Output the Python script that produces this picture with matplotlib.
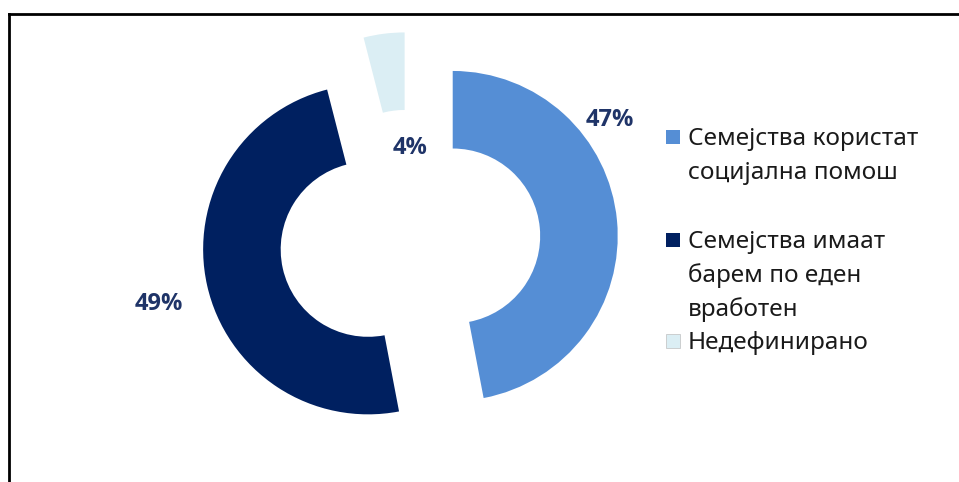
import matplotlib
matplotlib.use("Agg")
import matplotlib.pyplot as plt
from matplotlib.lines import Line2D
from matplotlib.patches import Rectangle

plt.rcParams['font.family'] = ['Noto Sans', 'DejaVu Sans']

# ---- data ----
categories = ["Семејства користат\nсоцијална помош",
              "Семејства имаат\nбарем по еден\nвработен",
              "Недефинирано"]
values = [47, 49, 4]
value_labels = ["47%", "49%", "4%"]
colors = ["#558ED5", "#002060", "#DBEEF4"]

# ---- layout (pixels) ----
W, H = 959, 482
DPI = 100
cx_px, cy_px = 410, 240      # pie centre (from top-left)
R_px = 165                   # outer radius in pixels
label_pos = [(1.21, 0.73), (-1.52, -0.39), (0.0, 0.56)]  # in radius units
label_color = "#1F3468"

fig = plt.figure(figsize=(W / DPI, H / DPI), dpi=DPI)
fig.patch.set_facecolor("white")
ax = fig.add_axes([0, 0, 1, 1])

ax.pie(values, colors=colors, startangle=90, counterclock=False,
       explode=[0.26] * len(values), radius=1.0,
       wedgeprops=dict(width=0.47, edgecolor="none"))

ax.set_xlim(-cx_px / R_px, (W - cx_px) / R_px)
ax.set_ylim(-(H - cy_px) / R_px, cy_px / R_px)
ax.set_aspect("auto")
ax.axis("off")

for (lx, ly), txt in zip(label_pos, value_labels):
    ax.text(lx, ly, txt, ha="center", va="center", fontsize=17,
            fontweight="bold", family=["Open Sans", "DejaVu Sans"],
            color=label_color)

# ---- legend (drawn manually) ----
sq_x, sq_size = 666, 14
text_x = 688
first_baselines = [145, 248, 349]
line_step = 34
for cat, col, base in zip(categories, colors, first_baselines):
    lines = cat.split("\n")
    sq_cy = base - 8
    fig.add_artist(Rectangle((sq_x / W, 1 - (sq_cy + sq_size / 2) / H),
                             sq_size / W, sq_size / H,
                             transform=fig.transFigure, facecolor=col,
                             edgecolor="#BFBFBF" if col == "#DBEEF4" else "none",
                             linewidth=0.5))
    for i, ln in enumerate(lines):
        fig.text(text_x / W, 1 - (base + i * line_step) / H, ln,
                 ha="left", va="baseline", fontsize=17.5, color="#1a1a1a")

# ---- frame (left and top border) ----
fig.add_artist(Line2D([8.7 / W, 8.7 / W], [0, 1 - 13.7 / H],
                      transform=fig.transFigure, color="black", linewidth=2.0,
                      solid_capstyle="projecting"))
fig.add_artist(Line2D([8.7 / W, 1], [1 - 13.7 / H, 1 - 13.7 / H],
                      transform=fig.transFigure, color="black", linewidth=2.0,
                      solid_capstyle="projecting"))

fig.savefig("out.png", dpi=DPI, facecolor="white")
